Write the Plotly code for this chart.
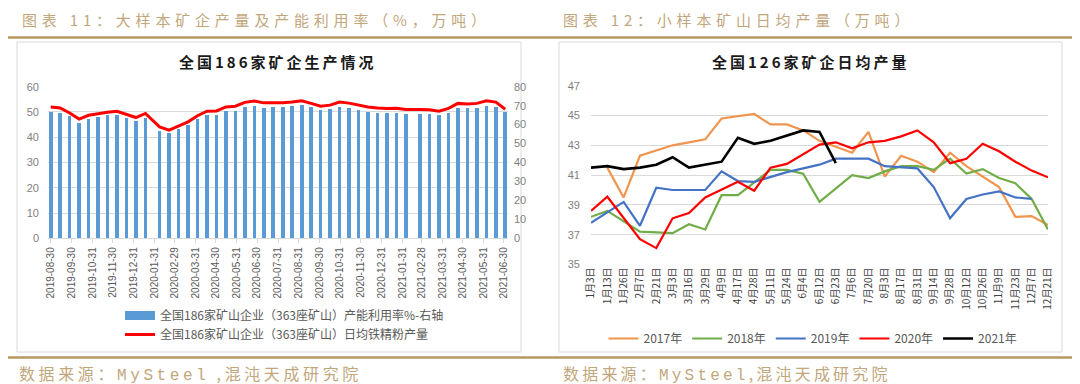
import plotly.graph_objects as go

# page is 1080x384; the html body adds an 8px margin, so the figure is 1072x376
OFF = 8
W, H = 1080 - OFF, 384 - OFF
def px(x):
    return (x - OFF) / W
def py(y):
    return 1 - (y - OFF) / H

# ---------------- Left chart data ----------------
left_dates = [
    "2019-08-30", "2019-09-13", "2019-09-27", "2019-10-11", "2019-10-25", "2019-11-08",
    "2019-11-22", "2019-12-06", "2019-12-20", "2020-01-03", "2020-01-17",
    "2020-02-07", "2020-02-21", "2020-03-06", "2020-03-20", "2020-04-03", "2020-04-17",
    "2020-05-01", "2020-05-15", "2020-05-29", "2020-06-12", "2020-06-26", "2020-07-10",
    "2020-07-24", "2020-08-07", "2020-08-21", "2020-09-04", "2020-09-18", "2020-10-02",
    "2020-10-16", "2020-10-30", "2020-11-13", "2020-11-27", "2020-12-11", "2020-12-25",
    "2021-01-08", "2021-01-22", "2021-02-05",
    "2021-02-26", "2021-03-12", "2021-03-26", "2021-04-09", "2021-04-23", "2021-05-07",
    "2021-05-21", "2021-06-04", "2021-06-18", "2021-07-02",
]
left_util = [
    67.0, 66.5, 64.5, 61.2, 63.3, 64.4, 65.1, 65.2, 63.6, 61.9, 63.9,
    57.0, 55.7, 57.7, 60.2, 63.0, 65.2, 65.2, 67.2, 67.3, 69.7, 69.8, 69.1,
    69.7, 69.7, 69.8, 70.5, 69.3, 67.7, 68.2, 69.4, 69.1, 67.9, 67.0, 66.3, 66.5, 66.5, 65.8,
    65.6, 65.8, 65.1, 66.3, 69.1, 68.8, 69.1, 70.2, 69.4, 66.8,
]
left_output = [
    52.0, 51.6, 49.6, 47.2, 48.7, 49.4, 49.9, 50.3, 49.1, 47.8, 49.4,
    44.1, 42.8, 44.5, 46.1, 48.5, 50.3, 50.4, 52.0, 52.3, 53.8, 54.3, 53.6,
    53.6, 53.6, 53.9, 54.4, 53.4, 52.3, 52.7, 53.9, 53.5, 52.6, 52.0, 51.6, 51.4, 51.5, 51.0,
    51.0, 50.9, 50.3, 51.4, 53.4, 53.2, 53.4, 54.4, 53.9, 51.1,
]
left_ticks = [
    "2019-08-30", "2019-09-30", "2019-10-31", "2019-11-30", "2019-12-31", "2020-01-31",
    "2020-02-29", "2020-03-31", "2020-04-30", "2020-05-31", "2020-06-30", "2020-07-31",
    "2020-08-31", "2020-09-30", "2020-10-31", "2020-11-30", "2020-12-31", "2021-01-31",
    "2021-02-28", "2021-03-31", "2021-04-30", "2021-05-31", "2021-06-30",
]
name_util = "全国186家矿山企业（363座矿山）产能利用率%-右轴"
name_out = "全国186家矿山企业（363座矿山）日均铁精粉产量"

# ---------------- Right chart data ----------------
right_cats = [
    "1月3日", "1月13日", "1月26日", "2月7日", "2月21日", "3月3日", "3月16日", "3月29日",
    "4月9日", "4月17日", "4月28日", "5月11日", "5月24日", "6月4日", "6月12日", "6月23日",
    "7月6日", "7月20日", "8月3日", "8月17日", "8月31日", "9月14日", "9月28日", "10月12日",
    "10月26日", "11月9日", "11月23日", "12月7日", "12月21日",
]
y2017 = [None, 41.5, 39.5, 42.3, None, 43.0, 43.2, 43.4, 44.8, None, 45.1, 44.4, 44.4, 44.0,
         43.3, 42.9, 42.5, 43.9, 40.9, 42.3, 41.9, 41.2, 42.5, 41.6, 40.9, 40.2, 38.2, 38.25, 37.65]
y2018 = [38.2, 38.6, None, 37.2, None, 37.1, 37.7, 37.35, 39.65, 39.65, None, 41.35, 41.35, 41.1,
         39.2, None, 41.0, 40.8, 41.25, 41.6, 41.6, 41.35, 42.1, 41.1, 41.4, 40.8, 40.45, 39.4, 37.35]
y2019 = [37.8, None, 39.2, 37.6, 40.15, 40.0, None, 40.0, 41.25, 40.6, 40.55, None, 41.2, None,
         41.7, 42.1, 42.1, 42.1, 41.6, 41.55, 41.45, 40.2, 38.1, 39.4, 39.7, 39.9, 39.5, 39.4, None]
y2020 = [38.6, 39.55, None, 36.7, 36.1, 38.1, 38.45, 39.5, None, 40.55, 39.95, 41.5, 41.75, None,
         43.05, 43.2, 42.8, 43.2, 43.3, 43.6, 44.0, 43.2, 41.8, 42.1, 43.1, 42.6, 41.9, 41.3, 40.85]
y2021 = [41.5, 41.6, 41.4, 41.5, 41.7, 42.2, 41.5, None, 41.9, 43.5, 43.1, 43.3, None, 44.0,
         43.9, 41.8] + [None] * 13
year_names = ["2017年", "2018年", "2019年", "2020年", "2021年"]
year_colors = ["#f0954e", "#70ad47", "#4472c4", "#ff0000", "#000000"]
year_series = [y2017, y2018, y2019, y2020, y2021]

CJK = "Noto Sans CJK SC"
TAN = "#c2a77c"
GOLD = "#b9985f"
GRID = "#d9d9d9"

fig = go.Figure()

# Left chart traces
fig.add_trace(go.Bar(
    x=left_dates, y=left_util, xaxis="x", yaxis="y2",
    marker=dict(color="#5b9bd5", line=dict(width=0)),
    width=5.4 * 86400000, showlegend=False, name=name_util,
))
fig.add_trace(go.Scatter(
    x=[None], y=[None], xaxis="x", yaxis="y2", mode="lines",
    line=dict(color="#5b9bd5", width=9), name=name_util, legend="legend",
))
fig.add_trace(go.Scatter(
    x=left_dates, y=left_output, xaxis="x", yaxis="y", mode="lines",
    line=dict(color="#ff0000", width=3), name=name_out, legend="legend",
))

# Right chart traces
for nm, col, ys in zip(year_names, year_colors, year_series):
    fig.add_trace(go.Scatter(
        x=right_cats, y=ys, xaxis="x3", yaxis="y3", mode="lines",
        line=dict(color=col, width=2.6 if nm == "2021年" else 2.2),
        connectgaps=True, name=nm, legend="legend2",
    ))

def ls(text, sp):
    return f'<span style="letter-spacing:{sp}px">{text}</span>'

annotations = [
    dict(text=ls("图表 11：大样本矿企产量及产能利用率（%，万吨）", 4.8), x=px(20), y=py(19),
         xanchor="left", yanchor="middle", font=dict(family=CJK, size=15, color=TAN)),
    dict(text=ls("图表 12：小样本矿山日均产量（万吨）", 4.8), x=px(561), y=py(19),
         xanchor="left", yanchor="middle", font=dict(family=CJK, size=15, color=TAN)),
    dict(text=ls('数据来源：<span style="font-family:Liberation Mono">MySteel</span> ,混沌天成研究院', 3.6),
         x=px(17), y=py(373), xanchor="left", yanchor="middle",
         font=dict(family=CJK, size=16, color=TAN)),
    dict(text=ls('数据来源：<span style="font-family:Liberation Mono">MySteel</span>,混沌天成研究院', 3.2),
         x=px(561), y=py(373), xanchor="left", yanchor="middle",
         font=dict(family=CJK, size=16, color=TAN)),
    dict(text=ls("<b>全国186家矿企生产情况</b>", 3), x=px(278), y=py(62),
         xanchor="center", yanchor="middle", font=dict(family=CJK, size=15, color="#1a1a1a")),
    dict(text=ls("<b>全国126家矿企日均产量</b>", 3), x=px(811), y=py(62),
         xanchor="center", yanchor="middle", font=dict(family=CJK, size=15, color="#1a1a1a")),
]
for a in annotations:
    a.update(xref="paper", yref="paper", showarrow=False)

shapes = [
    dict(type="line", x0=px(8), x1=px(1080), y0=py(37.5), y1=py(37.5),
         line=dict(color=GOLD, width=2.5)),
    dict(type="line", x0=px(8), x1=px(1080), y0=py(357.5), y1=py(357.5),
         line=dict(color=GOLD, width=2.5)),
    dict(type="rect", x0=px(17), x1=px(521), y0=py(42), y1=py(352),
         line=dict(color=GRID, width=1)),
    dict(type="rect", x0=px(559), x1=px(1062), y0=py(42), y1=py(352),
         line=dict(color=GRID, width=1)),
]
for s in shapes:
    s.update(xref="paper", yref="paper", layer="below")

fig.update_layout(
    width=W, height=H, margin=dict(l=0, r=0, t=0, b=0, autoexpand=False),
    paper_bgcolor="white", plot_bgcolor="white",
    font=dict(family=CJK, size=12, color="#595959"),
    bargap=0,
    xaxis=dict(
        domain=[px(48), px(508)], anchor="y", type="date",
        range=["2019-08-26", "2021-07-06"],
        tickmode="array", tickvals=left_ticks, ticktext=left_ticks, tickangle=-90,
        tickfont=dict(family="Liberation Sans", size=10, color="#595959"),
        showgrid=False, showline=True, linecolor=GRID, linewidth=1,
        ticks="outside", ticklen=4, tickcolor=GRID, zeroline=False,
    ),
    yaxis=dict(
        domain=[py(238.3), py(86.7)], anchor="x", range=[0, 60], dtick=10,
        showgrid=True, gridcolor=GRID, gridwidth=1, zeroline=False,
        tickfont=dict(family="Liberation Sans", size=11, color="#7f7f7f"),
        ticklabelstandoff=8,
    ),
    yaxis2=dict(
        domain=[py(238.3), py(86.7)], anchor="x", overlaying="y", side="right",
        range=[0, 80], dtick=10, showgrid=False, zeroline=False,
        tickfont=dict(family="Liberation Sans", size=11, color="#7f7f7f"),
        ticklabelstandoff=5,
    ),
    xaxis3=dict(
        domain=[px(591), px(1048)], anchor="y3", type="category",
        categoryorder="array", categoryarray=right_cats, tickangle=-90,
        tickfont=dict(family=CJK, size=10, color="#404040"),
        showgrid=False, showline=False, ticks="", zeroline=False,
    ),
    yaxis3=dict(
        domain=[py(264.5), py(85.7)], anchor="x3", range=[35, 47], tick0=35, dtick=2,
        showgrid=True, gridcolor=GRID, gridwidth=1, zeroline=False,
        tickfont=dict(family="Liberation Sans", size=11, color="#7f7f7f"),
        ticklabelstandoff=10,
    ),
    legend=dict(
        x=px(120), y=py(301), xanchor="left", yanchor="top", orientation="v",
        font=dict(family=CJK, size=12, color="#595959"), bgcolor="rgba(0,0,0,0)",
        tracegroupgap=0, itemwidth=30,
    ),
    legend2=dict(
        x=px(813), y=py(324), xanchor="center", yanchor="top", orientation="h",
        font=dict(family=CJK, size=12, color="#595959"), bgcolor="rgba(0,0,0,0)",
        itemwidth=30,
    ),
    annotations=annotations, shapes=shapes,
)

fig.write_html("out.html")
